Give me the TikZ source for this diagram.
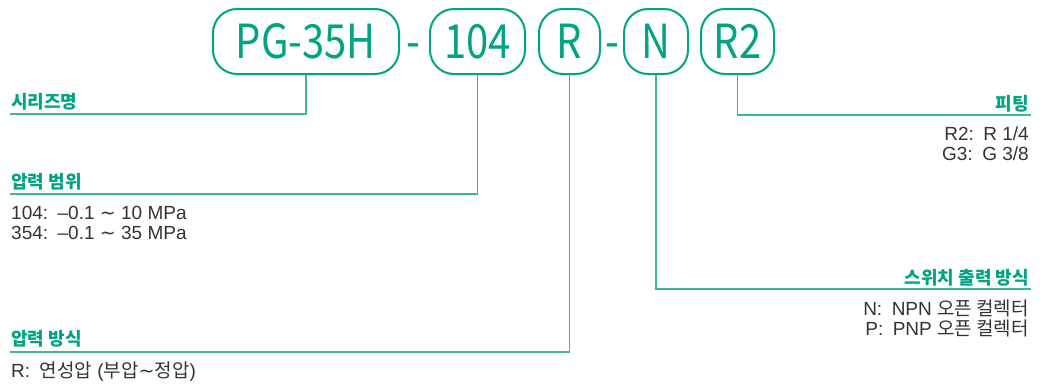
\documentclass[tikz,border=0pt]{standalone}
\usepackage{fontspec}
\usepackage{xcolor}
\usepackage{tikz}
\setmainfont{Liberation Sans}
\newfontfamily\krfont{Noto Sans CJK KR}
\newfontfamily\codefont{Noto Sans CJK KR}[FakeStretch=0.85]
\newfontfamily\symfont{DejaVu Sans}
\newcommand{\kr}[1]{{\krfont #1}}
\newcommand{\wave}{{\symfont ∼}}
\definecolor{pggreen}{RGB}{0, 163, 130}
\definecolor{pgline}{RGB}{60, 183, 152}
\definecolor{pgtext}{RGB}{51, 51, 51}

\begin{document}
\begin{tikzpicture}[x=1pt, y=-1pt,
  codebox/.style={draw=pggreen, line width=2pt, rounded corners=24pt, minimum height=65pt, inner sep=0pt, text=pggreen, font=\codefont\fontsize{47}{47}\selectfont},
  dashsign/.style={text=pggreen, inner sep=0pt, font=\codefont\fontsize{47}{47}\selectfont},
  heading/.style={text=pggreen, inner sep=0pt, font=\krfont\fontsize{18}{18}\selectfont\bfseries},
  option/.style={text=pgtext, inner sep=0pt, font=\fontsize{19}{20}\selectfont},
  lead/.style={draw=pgline, line width=1.3pt}]
\useasboundingbox (0,0) rectangle (1042,384);

% Model code
\node[codebox, minimum width=186pt] (series) at (306,41.5) {PG-35H};
\node[dashsign, anchor=base] (dashA) at (413,58) {-};
\node[codebox, minimum width=95pt] (range) at (477.5,41.5) {104};
\node[codebox, minimum width=61pt] (mode) at (569.5,41.5) {R};
\node[dashsign, anchor=base] (dashB) at (612,58) {-};
\node[codebox, minimum width=64pt] (output) at (656,41.5) {N};
\node[codebox, minimum width=73pt] (fitting) at (737.5,41.5) {R2};

% Series name
\node[heading, anchor=base west] (seriesHead) at (11,108) {시리즈명};
\coordinate (seriesEnd) at (10,114);
\draw[lead] (series.south) |- (seriesEnd);

% Pressure range
\node[heading, anchor=base west] (rangeHead) at (11,188) {압력 범위};
\coordinate (rangeEnd) at (10,194);
\draw[lead] (range.south) |- (rangeEnd);
\node[option, anchor=north west, align=left] (rangeText) at (11,206)
  {104:\enspace–0.1 \wave{} 10 MPa\\354:\enspace–0.1 \wave{} 35 MPa};

% Pressure mode
\node[heading, anchor=base west] (modeHead) at (11,345) {압력 방식};
\coordinate (modeEnd) at (10,352);
\draw[lead] (mode.south) |- (modeEnd);
\node[option, anchor=north west, align=left] (modeText) at (11,362)
  {R:\enspace\kr{연성압} (\kr{부압}\wave\kr{정압})};

% Switch output
\node[heading, anchor=base east] (outputHead) at (1029,284) {스위치 출력 방식};
\coordinate (outputEnd) at (1031,289);
\draw[lead] (output.south) |- (outputEnd);
\node[option, anchor=north east, align=right] (outputText) at (1029,300)
  {N:\enspace NPN \kr{오픈 컬렉터}\\P:\enspace PNP \kr{오픈 컬렉터}};

% Fitting
\node[heading, anchor=base east] (fittingHead) at (1029,110) {피팅};
\coordinate (fittingEnd) at (1031,115);
\draw[lead] (fitting.south) |- (fittingEnd);
\node[option, anchor=north east, align=right] (fittingText) at (1029,127)
  {R2:\enspace R 1/4\\G3:\enspace G 3/8};
\end{tikzpicture}
\end{document}
